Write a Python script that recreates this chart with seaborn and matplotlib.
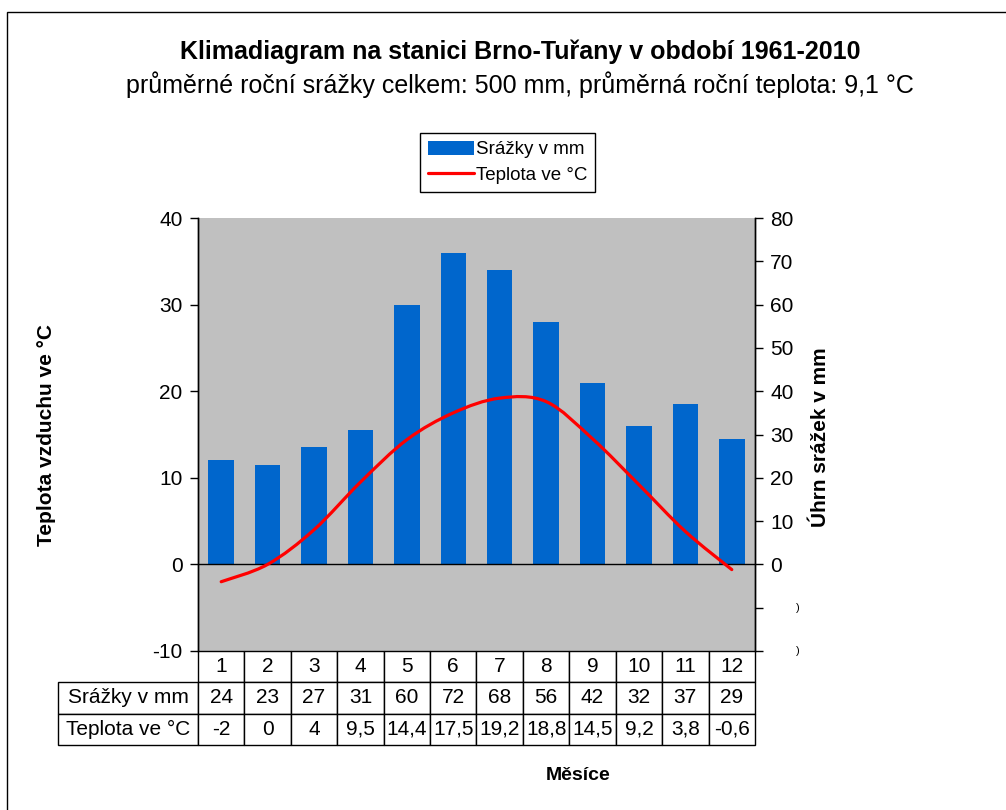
import numpy as np
import matplotlib
matplotlib.use("Agg")
import matplotlib.pyplot as plt
import seaborn as sns
import pandas as pd
from matplotlib.path import Path
from matplotlib.patches import PathPatch, Patch, Rectangle
from matplotlib.lines import Line2D

months = ["1", "2", "3", "4", "5", "6", "7", "8", "9", "10", "11", "12"]
srazky = [24, 23, 27, 31, 60, 72, 68, 56, 42, 32, 37, 29]
teplota = [-2, 0, 4, 9.5, 14.4, 17.5, 19.2, 18.8, 14.5, 9.2, 3.8, -0.6]
teplota_txt = ["-2", "0", "4", "9,5", "14,4", "17,5", "19,2", "18,8", "14,5", "9,2", "3,8", "-0,6"]

sns.set_theme(style="white")
plt.rcParams["font.family"] = ["Liberation Sans", "DejaVu Sans"]
plt.rcParams["text.color"] = "black"
plt.rcParams["axes.labelcolor"] = "black"
plt.rcParams["axes.unicode_minus"] = False

W, H = 1006, 810
fig = plt.figure(figsize=(W / 100, H / 100), dpi=100)

# plot area in pixels: x 198..755, y 218..651
x0, x1, y0, y1 = 198, 755, 218, 651
ax2 = fig.add_axes([x0 / W, 1 - y1 / H, (x1 - x0) / W, (y1 - y0) / H])
ax = ax2.twinx()
ax.set_zorder(ax2.get_zorder() + 1)
ax.patch.set_visible(False)
ax2.set_facecolor("#C0C0C0")

df = pd.DataFrame({"mesic": months, "srazky": srazky})
sns.barplot(data=df, x="mesic", y="srazky", color="#0066CC", saturation=1,
            width=0.55, linewidth=0, edgecolor="none", ax=ax2)
ax2.set_ylim(-20, 80)
ax2.set_xlim(-0.5, 11.5)
ax2.yaxis.tick_right()
ax2.set_yticks(range(-20, 81, 10))
ax2.set_yticklabels(["", ""] + [str(v) for v in range(0, 81, 10)])
ax2.set_xlabel("")
ax2.set_ylabel("")
ax2.set_xticks([])
# clipped remains of the negative labels on the right axis
for v in (-10, -20):
    ax2.annotate(")", xy=(1, v), xycoords=("axes fraction", "data"),
                 xytext=(43, 0), textcoords="offset pixels",
                 ha="center", va="center", fontsize=8)

# temperature axis on the left
ax.yaxis.tick_left()
ax.set_ylim(-10, 40)
ax.set_yticks(range(-10, 41, 10))
ax.set_xlim(-0.5, 11.5)
ax.set_ylabel("")
ax.axhline(0, color="black", lw=1)

# smoothed temperature line (bezier through the monthly points)
pts = np.column_stack([np.arange(12), teplota])
verts = [tuple(pts[0])]
codes = [Path.MOVETO]
for i in range(11):
    pm = pts[max(i - 1, 0)]
    p0 = pts[i]
    p1 = pts[i + 1]
    p2 = pts[min(i + 2, 11)]
    c1 = p0 + (p1 - pm) / 6
    c2 = p1 - (p2 - p0) / 6
    verts += [tuple(c1), tuple(c2), tuple(p1)]
    codes += [Path.CURVE4] * 3
ax.add_patch(PathPatch(Path(verts, codes), fill=False, edgecolor="#FF0000",
                       lw=2.3, capstyle="round", zorder=3))

for a in (ax, ax2):
    for s in ("top", "bottom"):
        a.spines[s].set_visible(False)
    for s in ("left", "right"):
        a.spines[s].set_color("black")
        a.spines[s].set_linewidth(1)
    a.tick_params(axis="y", direction="out", length=6, width=1,
                  colors="black", labelsize=15, pad=5)
ax.tick_params(axis="x", length=0, labelbottom=False)

fig.text(47 / W, 1 - 435 / H, "Teplota vzduchu ve °C", rotation=90,
         ha="center", va="center", fontsize=15, fontweight="bold")
fig.text(820 / W, 1 - 437 / H, "Úhrn srážek v mm", rotation=90,
         ha="center", va="center", fontsize=15, fontweight="bold")

# data table under the plot
ncol_w = (x1 - x0) / 12
lab_w = x0 - 58
cell_text = [[""] + months,
             ["Srážky v mm"] + [str(v) for v in srazky],
             ["Teplota ve °C"] + teplota_txt]
plot_w = x1 - x0
plot_h = y1 - y0
row_h = 31.3
tbl = ax.table(cellText=cell_text,
               colWidths=[lab_w / plot_w] + [ncol_w / plot_w] * 12,
               cellLoc="center",
               bbox=[-lab_w / plot_w, -3 * row_h / plot_h,
                     (plot_w + lab_w) / plot_w, 3 * row_h / plot_h])
tbl.auto_set_font_size(False)
tbl.set_fontsize(15)
for (r, c), cell in tbl.get_celld().items():
    cell.set_linewidth(1)
    cell.set_edgecolor("black")
    if c == 0:
        cell._loc = "left"
        cell.PAD = 0.04
    if r == 0 and c == 0:
        cell.visible_edges = ""

fig.text(520 / W, 1 - 52 / H, "Klimadiagram na stanici Brno-Tuřany v období 1961-2010",
         ha="center", va="center", fontsize=18, fontweight="bold")
fig.text(520 / W, 1 - 85 / H,
         "průměrné roční srážky celkem: 500 mm, průměrná roční teplota: 9,1 °C",
         ha="center", va="center", fontsize=18)
fig.text(578 / W, 1 - 776 / H, "Měsíce", ha="center", va="center",
         fontsize=14, fontweight="bold")

handles = [Patch(facecolor="#0066CC", edgecolor="none"),
           Line2D([], [], color="#FF0000", lw=2.3)]
leg = fig.legend(handles, ["Srážky v mm", "Teplota ve °C"],
                 loc="upper left", bbox_to_anchor=(420 / W, 1 - 133 / H),
                 borderaxespad=0, fontsize=13.5, frameon=True, fancybox=False,
                 edgecolor="black", handlelength=2.5, handleheight=0.8,
                 handletextpad=0.1, borderpad=0.4, labelspacing=0.45,
                 framealpha=1)
leg.get_frame().set_linewidth(1)

fig.patches.append(Rectangle((7 / W, -0.05), 1.1, 1 - 12 / H + 0.05,
                             transform=fig.transFigure, fill=False,
                             edgecolor="black", lw=1))

fig.savefig("out.png", dpi=100)
